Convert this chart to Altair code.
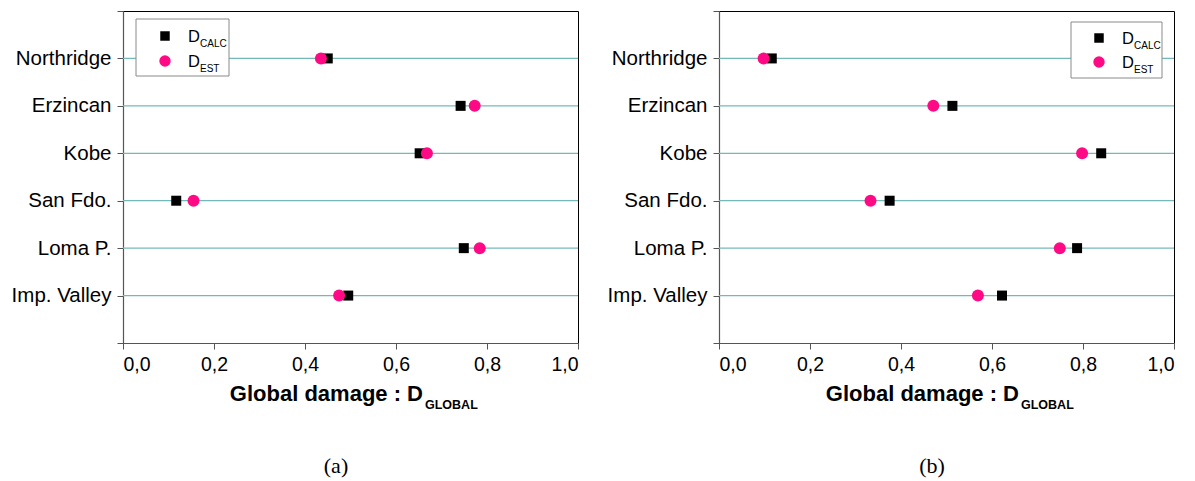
import json
import altair as alt
import pandas as pd

# ---------------- data ----------------
events = ["Northridge", "Erzincan", "Kobe", "San Fdo.", "Loma P.", "Imp. Valley"]
calc_a = [0.450, 0.742, 0.652, 0.117, 0.749, 0.495]
est_a = [0.435, 0.773, 0.668, 0.155, 0.784, 0.475]
calc_b = [0.116, 0.513, 0.840, 0.375, 0.787, 0.622]
est_b = [0.098, 0.471, 0.798, 0.333, 0.749, 0.569]
x_ticks = [0.0, 0.2, 0.4, 0.6, 0.8, 1.0]
series_names = ["CALC", "EST"]
panel_captions = ["(a)", "(b)"]
axis_title_main = "Global damage : D"
axis_title_sub = "GLOBAL"
legend_main = "D"

# ---------------- style ----------------
FONT = "Liberation Sans"
SERIF = "Liberation Serif"
PINK = "#ff0a84"
TEAL = "#74b9b9"
W, H = 455, 332
n = len(events)
pos_of = {e: n - i for i, e in enumerate(events)}
names_by_pos = [""] + events[::-1] + [""]
y_label_expr = json.dumps(names_by_pos) + "[datum.value]"


def enc_x():
    return alt.X(
        "value:Q",
        scale=alt.Scale(domain=[0, 1], nice=False, zero=False),
        axis=alt.Axis(values=x_ticks, title=None, grid=False, tickSize=6,
                      labelPadding=6, labelFontSize=19.5,
                      labelExpr="replace(format(datum.value, '.1f'), '.', ',')"),
    )


def enc_y():
    return alt.Y(
        "pos:Q",
        scale=alt.Scale(domain=[0, n + 1], nice=False, zero=False),
        axis=alt.Axis(values=list(range(n + 2)), title=None, grid=False,
                      tickSize=6, labelPadding=6, labelExpr=y_label_expr,
                      labelFontSize=20.5, minExtent=114, maxExtent=114),
    )


def one(text):
    return alt.Chart(pd.DataFrame({"t": [text]}))


def panel(calc, est, caption, lg):
    df = pd.DataFrame({
        "event": events * 2,
        "pos": [pos_of[e] for e in events] * 2,
        "series": [series_names[0]] * n + [series_names[1]] * n,
        "value": calc + est,
    })
    grid_df = pd.DataFrame({"pos": [pos_of[e] for e in events]})

    rules = alt.Chart(grid_df).mark_rule(color=TEAL, strokeWidth=1.3).encode(
        y=enc_y(), x=alt.value(0), x2=alt.value(W))

    bx0, by0, bx1, by1, sx, sy1, sy2, tx, tsx = lg
    box = one("box").mark_rect(fill="white", stroke="#8a8a8a", strokeWidth=1).encode(
        x=alt.value(bx0), x2=alt.value(bx1), y=alt.value(by0), y2=alt.value(by1))

    pts = alt.Chart(df).mark_point(filled=True, opacity=1).encode(
        x=enc_x(), y=enc_y(),
        shape=alt.Shape("series:N", scale=alt.Scale(domain=series_names, range=["square", "circle"]), legend=None),
        color=alt.Color("series:N", scale=alt.Scale(domain=series_names, range=["#000000", PINK]), legend=None),
        size=alt.Size("series:N", scale=alt.Scale(domain=series_names, range=[100, 144]), legend=None),
    )

    leg_sq = one("s").mark_point(shape="square", filled=True, opacity=1, color="#000000", size=90).encode(
        x=alt.value(sx), y=alt.value(sy1))
    leg_ci = one("c").mark_point(shape="circle", filled=True, opacity=1, color=PINK, size=130).encode(
        x=alt.value(sx), y=alt.value(sy2))
    d_style = dict(font=FONT, fontSize=16.5, align="left", baseline="alphabetic", color="#000")
    s_style = dict(font=FONT, fontSize=10, align="left", baseline="alphabetic", color="#000")
    d1 = one(legend_main).mark_text(**d_style).encode(text="t:N", x=alt.value(tx), y=alt.value(sy1 + 6))
    s1 = one(series_names[0]).mark_text(**s_style).encode(text="t:N", x=alt.value(tsx), y=alt.value(sy1 + 11))
    d2 = one(legend_main).mark_text(**d_style).encode(text="t:N", x=alt.value(tx), y=alt.value(sy2 + 6))
    s2 = one(series_names[1]).mark_text(**s_style).encode(text="t:N", x=alt.value(tsx), y=alt.value(sy2 + 11))

    t_main = one(axis_title_main).mark_text(font=FONT, fontSize=22, fontWeight="bold", align="right",
                                           baseline="alphabetic", color="#000").encode(
        text="t:N", x=alt.value(300), y=alt.value(390))
    t_sub = one(axis_title_sub).mark_text(font=FONT, fontSize=12.5, fontWeight="bold", align="left",
                                         baseline="alphabetic", color="#000").encode(
        text="t:N", x=alt.value(302), y=alt.value(398))
    cap = one(caption).mark_text(font=SERIF, fontSize=22, align="center", baseline="middle",
                                 color="#000").encode(text="t:N", x=alt.value(213), y=alt.value(455))

    return alt.layer(rules, box, pts, leg_sq, leg_ci, d1, s1, d2, s2, t_main, t_sub, cap).properties(
        width=W, height=H)


legend_a = (13, 8, 106, 65, 42, 25, 50, 65, 77)
legend_b = (352, 11, 443, 67, 380, 27, 51, 403, 415)

chart = alt.hconcat(
    panel(calc_a, est_a, panel_captions[0], legend_a),
    panel(calc_b, est_b, panel_captions[1], legend_b),
    spacing=24,
).properties(
    padding={"left": 0, "top": 2, "right": 0, "bottom": 0}
).configure_view(
    stroke="#000000", strokeWidth=1
).configure_axis(
    labelFont=FONT, labelFontSize=19, labelColor="#000000",
    domainColor="#555555", tickColor="#555555", domainWidth=1.2, tickWidth=1
)

chart.save("out.html", embed_options={"renderer": "svg", "actions": False})
